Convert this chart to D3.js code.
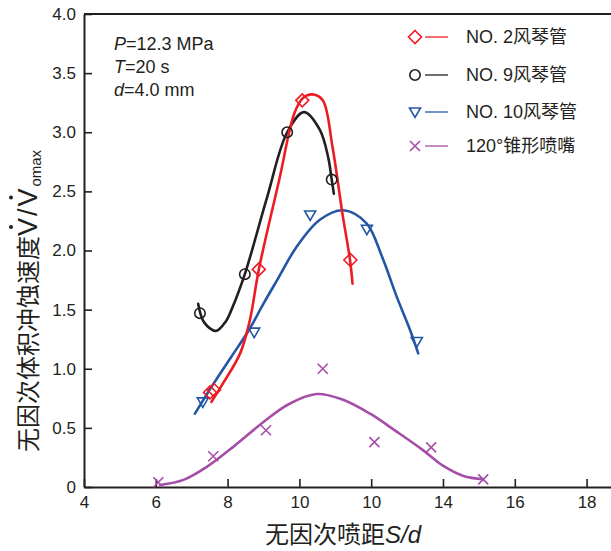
<!DOCTYPE html>
<html>
<head>
<meta charset="utf-8">
<script src="https://cdn.jsdelivr.net/npm/d3@7/dist/d3.min.js"></script>
<style>
  html, body { margin:0; padding:0; background:#fff; }
  svg { display:block; font-family:"Liberation Sans", Arial, "Noto Sans CJK SC", sans-serif; }
</style>
</head>
<body>
<svg id="chart" width="611" height="551"></svg>
<script>
// ticks
const xTicks = [4, 6, 8, 10, 12, 14, 16, 18];
const xTickLabels = ["4", "6", "8", "10", "10", "14", "16", "18"];
const yTicks = [0, 0.5, 1.0, 1.5, 2.0, 2.5, 3.0, 3.5, 4.0];
const yTickLabels = ["0", "0.5", "1.0", "1.5", "2.0", "2.5", "3.0", "3.5", "4.0"];

// measured points  [S/d, V/Vomax]
const no2Points = [[7.51, 0.80], [7.62, 0.82], [8.87, 1.84], [10.08, 3.27], [11.42, 1.92]];
const no9Points = [[7.23, 1.47], [8.48, 1.80], [9.66, 3.00], [10.90, 2.60]];
const no10Points = [[7.31, 0.72], [8.74, 1.31], [10.30, 2.30], [11.88, 2.18], [13.27, 1.23]];
const conePoints = [[6.07, 0.04], [7.60, 0.26], [9.07, 0.48], [10.65, 1.00], [12.09, 0.38], [13.67, 0.335], [15.12, 0.065]];

// fitted curves
const no2Curve = [[7.55, 0.72], [7.88, 0.88], [8.35, 1.13], [8.62, 1.41], [8.87, 1.84], [9.44, 2.60],
  [9.86, 3.16], [10.1, 3.29], [10.37, 3.32], [10.65, 3.27], [10.92, 2.88], [11.2, 2.31], [11.41, 1.92], [11.48, 1.72]];
const no9Curve = [[7.18, 1.55], [7.35, 1.39], [7.68, 1.32], [7.95, 1.40], [8.11, 1.50], [8.48, 1.80],
  [9.1, 2.45], [9.66, 3.00], [10.13, 3.17], [10.57, 3.02], [10.8, 2.79], [10.9, 2.60], [10.96, 2.48]];
const no10Curve = [[7.09, 0.62], [7.6, 0.87], [8.1, 1.10], [8.6, 1.33], [9.0, 1.55], [9.4, 1.76],
  [9.92, 2.03], [10.57, 2.26], [11.22, 2.34], [11.87, 2.23], [12.3, 1.95], [12.71, 1.61], [13.08, 1.33], [13.31, 1.13]];
const coneCurve = [[6.12, 0.017], [6.77, 0.06], [7.42, 0.17], [8.2, 0.35], [9.0, 0.55], [9.7, 0.70],
  [10.48, 0.786], [11.2, 0.74], [11.97, 0.62], [12.7, 0.47], [13.45, 0.31], [14.0, 0.18], [14.57, 0.093], [15.12, 0.065]];

const seriesNames = ["NO. 2风琴管", "NO. 9风琴管", "NO. 10风琴管", "120°锥形喷嘴"];

const colors = {
  red: "#ed1c24",
  black: "#231f20",
  blue: "#2456a6",
  purple: "#a54ea8"
};
const textColor = "#231f20";

const svg = d3.select("#chart");

const x = d3.scaleLinear().domain([4, 18.68]).range([84, 611]);
const y = d3.scaleLinear().domain([0, 4]).range([487, 14]);

// axes
const xAxis = svg.append("g")
  .attr("transform", `translate(0,${y(0)})`)
  .call(d3.axisBottom(x)
    .tickValues(xTicks)
    .tickFormat((d, i) => xTickLabels[i])
    .tickSizeInner(-8)
    .tickSizeOuter(0)
    .tickPadding(6));

const yAxis = svg.append("g")
  .attr("transform", `translate(${x(4)},0)`)
  .call(d3.axisLeft(y)
    .tickValues(yTicks)
    .tickFormat((d, i) => yTickLabels[i])
    .tickSizeInner(-8)
    .tickSizeOuter(0)
    .tickPadding(8));

[xAxis, yAxis].forEach(g => {
  g.select(".domain").attr("stroke", textColor).attr("stroke-width", 2);
  g.selectAll(".tick line").attr("stroke", textColor).attr("stroke-width", 1.6);
  g.selectAll(".tick text")
    .attr("fill", textColor)
    .style("font-size", "17px")
    .style("font-family", "'Liberation Sans', Arial, sans-serif");
});
xAxis.selectAll(".tick text").attr("dy", "0.9em");

// top frame line
svg.append("line")
  .attr("x1", x.range()[0]).attr("x2", x.range()[1])
  .attr("y1", y(4)).attr("y2", y(4))
  .attr("stroke", textColor).attr("stroke-width", 2);

// curves
const line = d3.line()
  .x(d => x(d[0]))
  .y(d => y(d[1]))
  .curve(d3.curveCatmullRom.alpha(0.5));

const curves = [
  [no9Curve, colors.black],
  [no10Curve, colors.blue],
  [coneCurve, colors.purple],
  [no2Curve, colors.red]
];
curves.forEach(([pts, c]) => {
  svg.append("path")
    .datum(pts)
    .attr("d", line)
    .attr("fill", "none")
    .attr("stroke", c)
    .attr("stroke-width", 2.6)
    .attr("stroke-linecap", "round");
});

// marker shapes
const shapes = {
  diamond: "M0,-6.5L6.5,0L0,6.5L-6.5,0Z",
  circle: d3.symbol().type(d3.symbolCircle).size(Math.PI * 5.2 * 5.2)(),
  triangle: "M-5.5,-4L5.5,-4L0,5.5Z",
  cross: "M-5,-5L5,5M-5,5L5,-5"
};

function drawMarkers(pts, shape, c) {
  svg.append("g").selectAll("path")
    .data(pts)
    .join("path")
    .attr("transform", d => `translate(${x(d[0])},${y(d[1])})`)
    .attr("d", shapes[shape])
    .attr("fill", "none")
    .attr("stroke", c)
    .attr("stroke-width", 1.6);
}
drawMarkers(no9Points, "circle", colors.black);
drawMarkers(no10Points, "triangle", colors.blue);
drawMarkers(conePoints, "cross", colors.purple);
drawMarkers(no2Points, "diamond", colors.red);

// legend
const legendItems = [
  ["diamond", colors.red],
  ["circle", colors.black],
  ["triangle", colors.blue],
  ["cross", colors.purple]
];
const legendY = [37, 75, 112, 146];
legendItems.forEach(([shape, c], i) => {
  const g = svg.append("g").attr("transform", `translate(0,${legendY[i]})`);
  g.append("path")
    .attr("transform", "translate(415,0)")
    .attr("d", shapes[shape])
    .attr("fill", "none")
    .attr("stroke", c)
    .attr("stroke-width", 1.6);
  g.append("line")
    .attr("x1", 425).attr("x2", 448)
    .attr("stroke", c).attr("stroke-width", 1.3);
  g.append("text")
    .attr("x", 466).attr("dy", "0.35em")
    .attr("fill", textColor)
    .style("font-size", "18px")
    .text(seriesNames[i]);
});

// condition annotation
const notes = [["P", "=12.3 MPa"], ["T", "=20 s"], ["d", "=4.0 mm"]];
notes.forEach((n, i) => {
  const t = svg.append("text")
    .attr("x", 114).attr("y", 50 + i * 23)
    .attr("fill", textColor)
    .style("font-size", "18px");
  t.append("tspan").style("font-style", "italic").text(n[0]);
  t.append("tspan").text(n[1]);
});

// x label
const xl = svg.append("text")
  .attr("x", 343).attr("y", 543)
  .attr("text-anchor", "middle")
  .attr("fill", textColor)
  .style("font-size", "24px");
xl.append("tspan").text("无因次喷距");
xl.append("tspan").style("font-style", "italic").text("S/d");

// y label (dots over V drawn by hand)
const ylg = svg.append("g").attr("transform", "translate(37,301) rotate(-90)");
const yl = ylg.append("text")
  .attr("text-anchor", "middle")
  .attr("fill", textColor)
  .style("font-size", "24px");
yl.append("tspan").text("无因次体积冲蚀速度");
yl.append("tspan").style("font-size", "27px").style("letter-spacing", "2px").text("V/V");
yl.append("tspan").attr("dy", 4).style("font-size", "15px").text("omax");

const ylNode = yl.node();
[9, 11].forEach(idx => {
  const ext = ylNode.getExtentOfChar(idx);
  ylg.append("circle")
    .attr("cx", ext.x + ext.width / 2 - 1)
    .attr("cy", -26)
    .attr("r", 2)
    .attr("fill", textColor);
});
</script>
</body>
</html>
